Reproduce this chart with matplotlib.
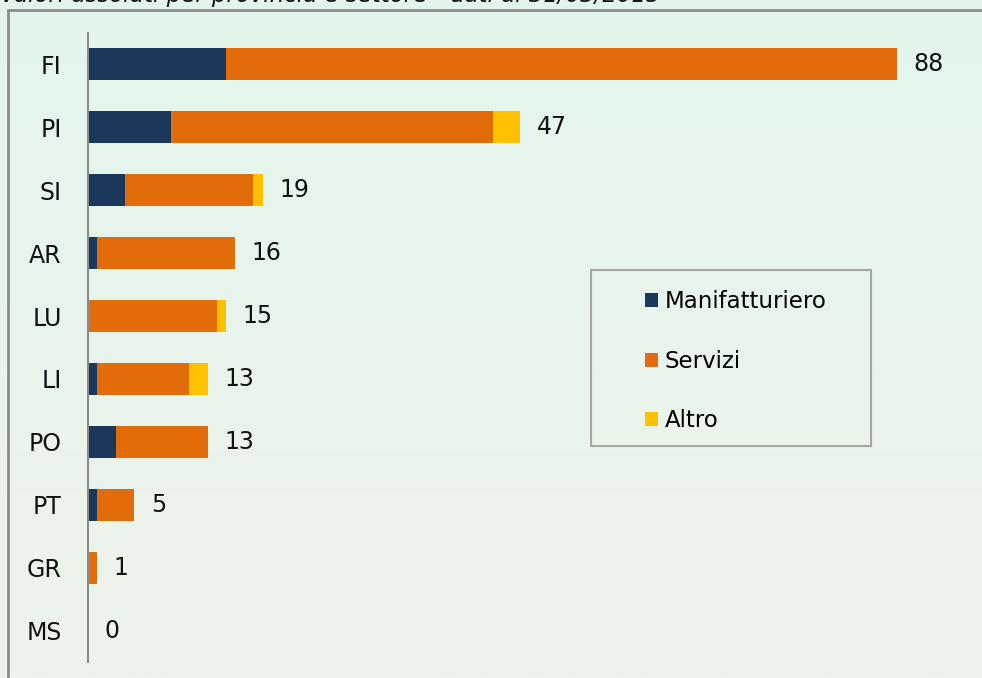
"""Stacked horizontal bars: imprese per provincia e settore (Toscana, 31/03/2015)."""

import matplotlib

matplotlib.use("Agg")
import matplotlib.pyplot as plt
import numpy as np
from matplotlib.patches import Patch, Rectangle

province = ["FI", "PI", "SI", "AR", "LU", "LI", "PO", "PT", "GR", "MS"]
manifatturiero = [15, 9, 4, 1, 0, 1, 3, 1, 0, 0]
servizi = [73, 35, 14, 15, 14, 10, 10, 4, 1, 0]
altro = [0, 3, 1, 0, 1, 2, 0, 0, 0, 0]
totali = [88, 47, 19, 16, 15, 13, 13, 5, 1, 0]
serie = ["Manifatturiero", "Servizi", "Altro"]
colori = ["#1B375C", "#E36C0A", "#FFC000"]
titolo = "Valori assoluti per provincia e settore - dati al 31/03/2015"

W, H = 982, 678
plt.rcParams["font.family"] = ["DejaVu Sans"]
fig = plt.figure(figsize=(W / 100, H / 100), dpi=100)

# soft mint gradient background
bg = fig.add_axes([0, 0, 1, 1], zorder=-10)
grad = np.linspace(0, 1, 256)[:, None]
top = np.array([227, 246, 235]) / 255
bot = np.array([238, 243, 236]) / 255
img = top[None, None, :] * (1 - grad[..., None]) + bot[None, None, :] * grad[..., None]
bg.imshow(np.repeat(img, 2, axis=1), aspect="auto", extent=(0, 1, 0, 1))
bg.axis("off")

# outer chart frame (left and top edges visible)
fig.patches.append(Rectangle((8 / W, -0.1), 1.2, 1 - 10 / H + 0.1,
                             transform=fig.transFigure, fill=False,
                             edgecolor="#8C8C8C", linewidth=2, zorder=-5))
fig.text(0.0, 1 - 2 / H, titolo, fontsize=16.5, style="italic",
         va="baseline", ha="left", color="#111111")

px = 809 / 88
xmax = 97
ax = fig.add_axes([88 / W, 1 - 662 / H, xmax * px / W, 629 / H])
ax.set_facecolor("none")

y = np.arange(len(province))
left = np.zeros(len(province))
for nome, vals, col in zip(serie, [manifatturiero, servizi, altro], colori):
    vals = np.array(vals, dtype=float)
    ax.barh(y, vals, left=left, height=0.51, color=col, label=nome,
            edgecolor="none")
    left += vals

for yi, tot in zip(y, totali):
    ax.annotate(str(tot), (tot, yi), xytext=(12, 0), textcoords="offset points",
                va="center", ha="left", fontsize=17, color="#111111")

ax.set_xlim(0, xmax)
ax.set_ylim(len(province) - 0.5, -0.5)
ax.set_yticks(y)
ax.set_yticklabels(province, fontsize=17, color="#111111")
ax.tick_params(axis="y", length=0, pad=19)
ax.set_xticks([])
for s in ["top", "right", "bottom"]:
    ax.spines[s].set_visible(False)
ax.spines["left"].set_color("#8C8C8C")
ax.spines["left"].set_linewidth(1.5)

# legend box
fig.patches.append(Rectangle((591 / W, 1 - 446 / H), 280 / W, 176 / H,
                             transform=fig.transFigure, fill=False,
                             edgecolor="#A6A6A6", linewidth=1.5))
handles = [Patch(facecolor=c, edgecolor="none", label=n) for n, c in zip(serie, colori)]
fig.legend(handles=handles, loc="upper left",
           bbox_to_anchor=(645 / W, 1 - 290 / H), frameon=False,
           fontsize=16.5, borderpad=0, borderaxespad=0,
           handlelength=0.57, handleheight=0.57, handletextpad=0.3,
           labelspacing=1.6)

fig.savefig("out.png", dpi=100)
